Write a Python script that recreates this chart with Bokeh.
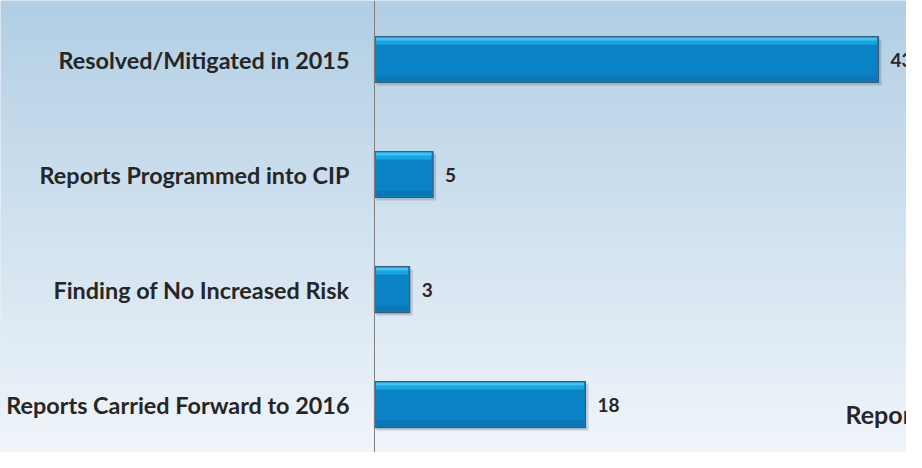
import numpy as np
from bokeh.plotting import figure
from bokeh.models import ColumnDataSource, Span, Range1d
from bokeh.core.properties import value
from bokeh.transform import dodge
from bokeh.embed import file_html
from bokeh.resources import INLINE

# ---- data ----
categories = [
    "Resolved/Mitigated in 2015",
    "Reports Programmed into CIP",
    "Finding of No Increased Risk",
    "Reports Carried Forward to 2016",
]
counts = [43, 5, 3, 18]
value_labels = [str(v) for v in counts]
side_title = "Reports"

n = len(categories)
ypos = list(range(n - 1, -1, -1))

W, H = 906, 452
x0, x1 = -31.91, 45.39
y0, y1 = -0.417, 3.513
px_x = W / (x1 - x0)
px_y = H / (y1 - y0)

p = figure(width=W, height=H, output_backend="svg", toolbar_location=None,
           x_range=Range1d(x0, x1), y_range=Range1d(y0, y1),
           min_border=0, min_border_left=0, min_border_right=0,
           min_border_top=0, min_border_bottom=0)
p.axis.visible = False
p.grid.visible = False
p.outline_line_color = None
p.background_fill_color = "#d0e2f0"
p.border_fill_color = "#d0e2f0"

# background vertical gradient (decoration)
rows = 120
top = np.array([0xb2, 0xcf, 0xe5], dtype=float)
bot = np.array([0xf0, 0xf5, 0xfa], dtype=float)
img = np.empty((rows, 1), dtype=np.uint32)
view = img.view(dtype=np.uint8).reshape((rows, 1, 4))
for i in range(rows):
    t = i / (rows - 1)  # 0 = bottom
    c = bot * (1 - t) + top * t
    view[i, 0, 0] = int(c[0]); view[i, 0, 1] = int(c[1]); view[i, 0, 2] = int(c[2]); view[i, 0, 3] = 255
p.image_rgba(image=[img], x=x0, y=y0, dw=x1 - x0, dh=y1 - y0, level="image")

src = ColumnDataSource(dict(y=ypos, v=counts, cat=categories, lab=value_labels))

bh = 46 / px_y
# shadow
p.hbar(y=dodge("y", -3 / px_y), right=dodge("v", 3 / px_x), left=2 / px_x, height=bh,
       source=src, fill_color="black", fill_alpha=0.15, line_color=None)
# main bar
p.hbar(y="y", right="v", left=0, height=bh, source=src,
       fill_color="#0a82c6", line_color="#3b5a78", line_width=1.2)
# bottom darker band
p.hbar(y=dodge("y", -bh / 2 + 4 / px_y), right=dodge("v", -1.5 / px_x), left=1.5 / px_x,
       height=6 / px_y, source=src, fill_color="#0a70ae", fill_alpha=0.6, line_color=None)
# top highlight bands
p.hbar(y=dodge("y", bh / 2 - 5 / px_y), right=dodge("v", -1.5 / px_x), left=1.5 / px_x,
       height=6 / px_y, source=src, fill_color="#1aa4e0", line_color=None)
p.hbar(y=dodge("y", bh / 2 - 2.5 / px_y), right=dodge("v", -1.5 / px_x), left=1.5 / px_x,
       height=3 / px_y, source=src, fill_color="#3cc4f2", line_color=None)

# axis line
p.add_layout(Span(location=0, dimension="height", line_color="#7f7f7f", line_width=1))

# category labels
p.text(x=-25 / px_x, y="y", text="cat", source=src, text_align="right",
       text_baseline="middle", text_font=value("Lato"), text_font_style="bold",
       text_font_size="23.4px", text_color="#262626")
# value labels
p.text(x=dodge("v", 12 / px_x), y="y", text="lab", source=src, text_align="left",
       text_baseline="middle", text_font=value("Lato"), text_font_style="bold",
       text_font_size="19px", text_color="#262626")

p.text(x=[(853 - 382) / px_x], y=[-9 / px_y], text=[side_title], text_align="left",
       text_baseline="middle", text_font=value("Lato"), text_font_style="bold",
       text_font_size="25px", text_color="#262626")

open("out.html", "w").write(file_html(p, INLINE))
